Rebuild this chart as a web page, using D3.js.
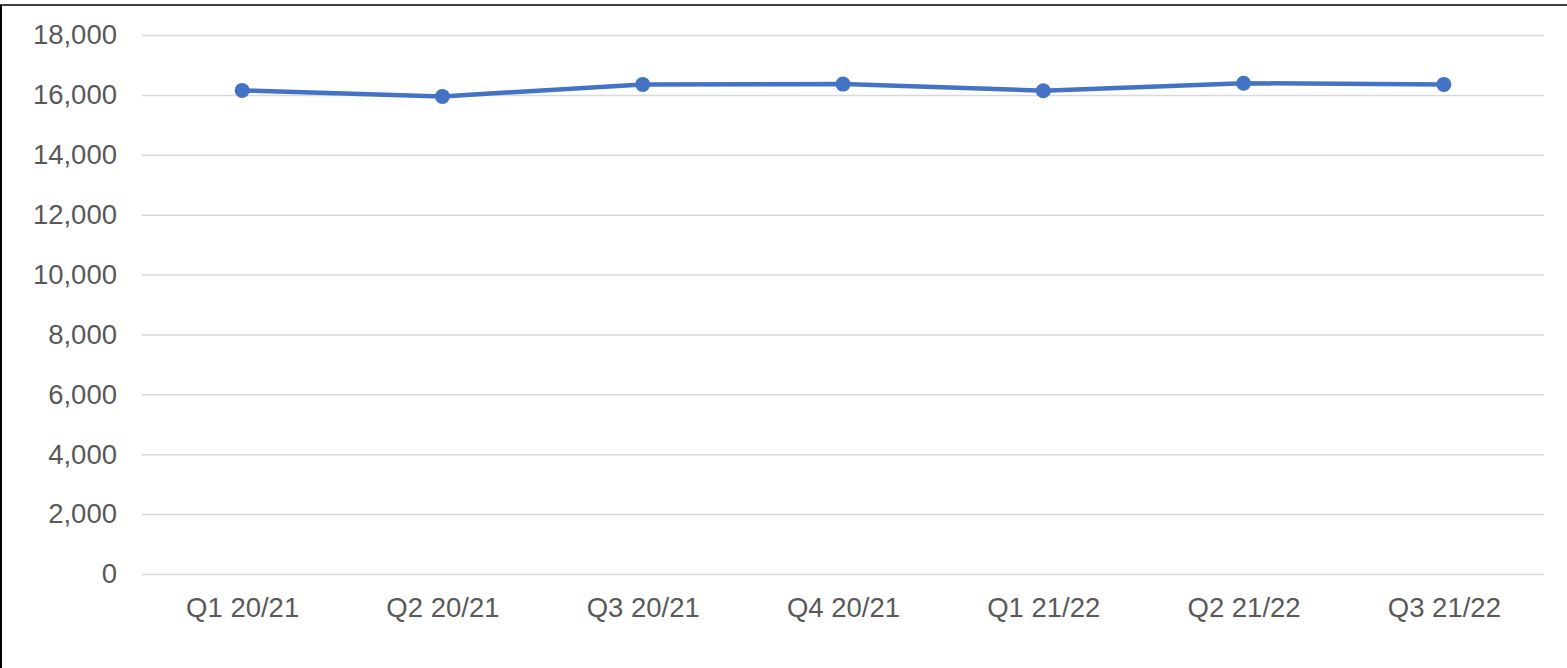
<!DOCTYPE html>
<html>
<head>
<meta charset="utf-8">
<script src="https://cdn.jsdelivr.net/npm/d3@7"></script>
<style>
  html, body { margin: 0; padding: 0; background: #fff; }
  svg { display: block; }
</style>
</head>
<body>
<svg id="chart" width="1567" height="668"></svg>
<script>
// Quarterly totals
const quarters = ["Q1 20/21", "Q2 20/21", "Q3 20/21", "Q4 20/21", "Q1 21/22", "Q2 21/22", "Q3 21/22"];
const totals = [16150, 15950, 16350, 16360, 16140, 16390, 16350];
const yTicks = [0, 2000, 4000, 6000, 8000, 10000, 12000, 14000, 16000, 18000];

const svg = d3.select("#chart");
const W = 1567, H = 668;
const margin = { left: 142, right: 23, top: 35, bottom: 94 };

// Frame lines along the top and left edges
svg.append("line").attr("x1", 0).attr("x2", W).attr("y1", 5).attr("y2", 5)
  .attr("stroke", "#000").attr("stroke-width", 1.5);
svg.append("line").attr("x1", 1).attr("x2", 1).attr("y1", 5).attr("y2", H)
  .attr("stroke", "#000").attr("stroke-width", 2);

const x = d3.scalePoint().domain(quarters)
  .range([margin.left, W - margin.right]).padding(0.5);
const y = d3.scaleLinear().domain([0, 18000])
  .range([H - margin.bottom, margin.top]);

const font = "'Liberation Sans', Arial, sans-serif";
const fontSize = 27.5;

// Horizontal gridlines with value labels
const yAxis = d3.axisLeft(y).tickValues(yTicks).tickFormat(d3.format(",d"))
  .tickSize(-(W - margin.left - margin.right)).tickPadding(25);
const gy = svg.append("g").attr("transform", `translate(${margin.left},0)`).call(yAxis);
gy.select(".domain").remove();
gy.selectAll(".tick line").attr("stroke", "#d9d9d9").attr("stroke-width", 1.5);
gy.selectAll(".tick text").attr("fill", "#595959").attr("font-family", font)
  .attr("font-size", fontSize);

// Category labels
const xAxis = d3.axisBottom(x).tickSize(0).tickPadding(23);
const gx = svg.append("g").attr("transform", `translate(0,${H - margin.bottom})`).call(xAxis);
gx.select(".domain").remove();
gx.selectAll(".tick text").attr("fill", "#595959").attr("font-family", font)
  .attr("font-size", fontSize);

// Series line and markers
const line = d3.line().x((d, i) => x(quarters[i])).y(d => y(d));
svg.append("path").datum(totals).attr("d", line)
  .attr("fill", "none").attr("stroke", "#4472C4").attr("stroke-width", 4.5)
  .attr("stroke-linejoin", "round");
svg.append("g").selectAll("circle").data(totals).join("circle")
  .attr("cx", (d, i) => x(quarters[i])).attr("cy", d => y(d)).attr("r", 7.5)
  .attr("fill", "#4472C4");
</script>
</body>
</html>
